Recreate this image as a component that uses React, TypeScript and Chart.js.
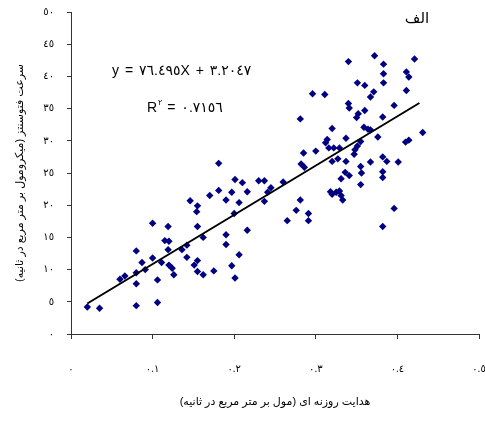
import React, { useEffect, useRef } from "react";
import { Chart, registerables } from "chart.js";

Chart.register(...registerables);

// Stomatal conductance (mol m-2 s-1)
const conductance = [
  0.020, 0.035, 0.080, 0.106, 0.080, 0.106, 0.060, 0.066, 0.080, 0.091,
  0.080, 0.087, 0.100, 0.111, 0.100, 0.119, 0.115, 0.120, 0.119, 0.120,
  0.124, 0.126, 0.136, 0.142, 0.142, 0.146, 0.155, 0.154, 0.170, 0.181,
  0.155, 0.162, 0.151, 0.155, 0.155, 0.162, 0.175,
  0.181, 0.201, 0.210, 0.197, 0.216, 0.190, 0.206, 0.230, 0.237, 0.245,
  0.241, 0.237, 0.260, 0.200, 0.190, 0.190, 0.216, 0.206, 0.197, 0.201,
  0.281, 0.276, 0.265, 0.291, 0.291, 0.285, 0.300, 0.282, 0.286, 0.312,
  0.316, 0.318,
  0.281, 0.296, 0.311, 0.340, 0.372, 0.383, 0.383, 0.383, 0.421, 0.411,
  0.414, 0.411, 0.351, 0.360, 0.371, 0.367, 0.340, 0.341, 0.352, 0.350,
  0.360, 0.396, 0.382, 0.320, 0.359, 0.364, 0.367, 0.376, 0.337, 0.314,
  0.351, 0.348, 0.431, 0.414, 0.410, 0.347,
  0.322, 0.329, 0.320, 0.327, 0.337, 0.355, 0.336, 0.341, 0.331, 0.355,
  0.356, 0.367, 0.382, 0.387, 0.401, 0.382, 0.382, 0.355, 0.325, 0.329,
  0.331, 0.320, 0.333, 0.396, 0.382,
];

// Photosynthesis rate (umol m-2 s-1)
const photosynthesis = [
  4.2, 4.0, 4.4, 4.9, 7.8, 8.4, 8.5, 9.0, 9.5, 10.0,
  12.9, 11.1, 11.8, 11.1, 17.2, 16.7, 14.5, 14.4, 13.1, 10.7,
  10.2, 9.2, 13.1, 13.8, 11.9, 20.7, 19.9, 19.0, 21.5, 22.3,
  16.7, 15.0, 10.7, 11.4, 9.7, 9.2, 9.8,
  26.5, 24.0, 23.5, 22.0, 22.1, 20.8, 20.4, 23.8, 23.8, 22.7,
  22.0, 20.6, 23.6, 18.7, 15.4, 13.9, 16.1, 12.3, 10.6, 8.7,
  20.8, 19.2, 17.6, 18.7, 17.6, 28.1, 28.4, 26.4, 25.9, 29.7,
  28.9, 22.1,
  33.4, 37.3, 37.2, 42.3, 43.2, 41.9, 40.4, 39.0, 42.7, 40.7,
  39.9, 37.8, 39.0, 38.6, 37.6, 36.8, 35.8, 35.1, 34.2, 33.6,
  34.7, 35.5, 33.7, 31.9, 32.1, 31.8, 31.7, 30.6, 30.4, 30.2,
  29.2, 28.6, 31.3, 30.1, 29.8, 27.9,
  28.9, 28.9, 26.8, 27.2, 26.8, 29.9, 25.1, 24.6, 24.1, 26.0,
  25.0, 26.7, 27.5, 26.8, 26.7, 25.2, 24.3, 23.2, 22.0, 22.2,
  21.5, 21.7, 20.8, 19.5, 16.7,
];

// Linear trendline (from the printed equation)
const trendSlope = 76.495;
const trendIntercept = 3.2047;
const trendRange = [0.02, 0.427];

const xTickLabels = ["٠", "٠.١", "٠.٢", "٠.٣", "٠.٤", "٠.٥"];
const yTickLabels = ["٠", "٥", "١٠", "١٥", "٢٠", "٢٥", "٣٠", "٣٥", "٤٠", "٤٥", "٥٠"];

const xTitle = "هدایت روزنه ای (مول بر متر مربع در ثانیه)";
const yTitle = "سرعت فتوسنتز (میکرومول بر متر مربع در ثانیه)";
const panelLabel = "الف";
const equationText = "y = ٧٦.٤٩٥X + ٣.٢٠٤٧";
const r2Value = " = ٠.٧١٥٦";

const FONT = "'Liberation Sans', 'DejaVu Sans', sans-serif";

export default function App() {
  const ref = useRef<HTMLCanvasElement | null>(null);

  useEffect(() => {
    if (!ref.current) return;
    const annot = {
      id: "annot",
      afterDraw(chart: any) {
        const ctx = chart.ctx;
        ctx.save();
        ctx.fillStyle = "#000";
        // panel label
        ctx.direction = "rtl";
        ctx.textAlign = "center";
        ctx.textBaseline = "middle";
        ctx.font = "15px 'DejaVu Sans', sans-serif";
        ctx.fillText(panelLabel, 417, 19);
        // equation
        ctx.direction = "ltr";
        ctx.textAlign = "left";
        ctx.font = "14px " + FONT;
        (ctx as any).letterSpacing = "1px";
        ctx.fillText(equationText, 112, 71);
        // R^2
        let x = 147;
        ctx.fillText("R", x, 108);
        x += ctx.measureText("R").width;
        ctx.font = "8px " + FONT;
        ctx.fillText("٢", x, 103);
        x += ctx.measureText("٢").width;
        ctx.font = "14px " + FONT;
        ctx.fillText(r2Value, x, 108);
        (ctx as any).letterSpacing = "0px";
        ctx.restore();
      },
    };

    const chart = new Chart(ref.current, {
      type: "scatter",
      data: {
        datasets: [
          {
            type: "line",
            data: trendRange.map((v) => ({ x: v, y: trendSlope * v + trendIntercept })),
            borderColor: "#000",
            borderWidth: 2,
            pointRadius: 0,
            fill: false,
            order: 0,
          } as any,
          {
            data: conductance.map((v, i) => ({ x: v, y: photosynthesis[i] })),
            pointStyle: "rectRot",
            pointRadius: 3.7,
            backgroundColor: "#000080",
            borderColor: "#000080",
            borderWidth: 0,
            order: 1,
          },
        ],
      },
      options: {
        animation: false,
        responsive: false,
        maintainAspectRatio: false,
        layout: { padding: { top: 12, right: 6, bottom: 0, left: 0 } },
        plugins: { legend: { display: false }, tooltip: { enabled: false } },
        scales: {
          x: {
            type: "linear",
            min: 0,
            max: 0.5,
            ticks: {
              stepSize: 0.1,
              color: "#000",
              padding: 24,
              font: { family: FONT, size: 10 },
              callback: (_v: any, i: number) => xTickLabels[i],
            },
            grid: { drawOnChartArea: false, drawTicks: true, tickLength: 5, color: "#333" },
            border: { display: true, color: "#333", width: 1 },
            title: {
              display: true,
              text: xTitle,
              color: "#000",
              font: { family: FONT, size: 11 },
              padding: { top: 0, bottom: 12 },
            },
            afterFit: (s: any) => {
              s.height = 87;
              s.paddingLeft = 0;
              s.paddingRight = 0;
            },
          },
          y: {
            type: "linear",
            min: 0,
            max: 50,
            ticks: {
              stepSize: 5,
              color: "#000",
              padding: 13,
              font: { family: FONT, size: 10 },
              callback: (_v: any, i: number) => yTickLabels[i],
            },
            grid: { drawOnChartArea: false, drawTicks: true, tickLength: 4, color: "#333" },
            border: { display: true, color: "#333", width: 1 },
            title: {
              display: true,
              text: yTitle,
              color: "#000",
              font: { family: FONT, size: 11 },
              padding: { top: 13, bottom: 0 },
            },
            afterFit: (s: any) => {
              s.width = 71;
              s.paddingTop = 0;
              s.paddingBottom = 0;
            },
          },
        },
      },
      plugins: [annot],
    });
    return () => chart.destroy();
  }, []);

  return (
    <div style={{ position: "fixed", left: 0, top: 0, width: 485, height: 421, background: "#fff" }}>
      <canvas
        ref={ref}
        width={485}
        height={421}
        style={{ display: "block", width: 485, height: 421, direction: "rtl" }}
      />
    </div>
  );
}
